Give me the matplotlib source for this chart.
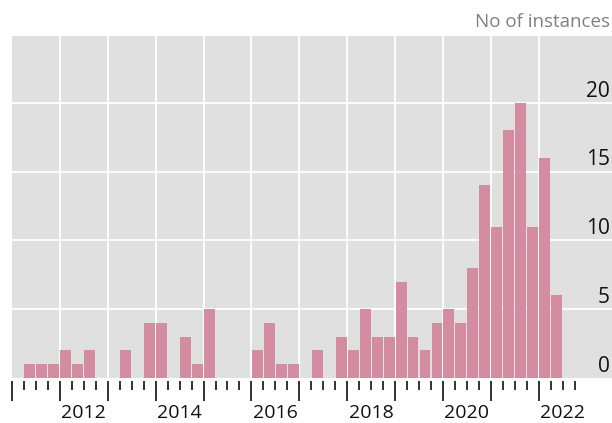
import matplotlib
matplotlib.use("Agg")
import matplotlib.pyplot as plt
import matplotlib.transforms as mtransforms
import numpy as np

plt.rcParams['font.family'] = ['Open Sans', 'DejaVu Sans']

# quarterly counts, 2011 Q1 .. 2022 Q4
years = list(range(2011, 2023))
counts = [
    0, 1, 1, 1,     # 2011
    2, 1, 2, 0,     # 2012
    0, 2, 0, 4,     # 2013
    4, 0, 3, 1,     # 2014
    5, 0, 0, 0,     # 2015
    2, 4, 1, 1,     # 2016
    0, 2, 0, 3,     # 2017
    2, 5, 3, 3,     # 2018
    7, 3, 2, 4,     # 2019
    5, 4, 8, 14,    # 2020
    11, 18, 20, 11, # 2021
    16, 6, 0, 0,    # 2022
]
year_labels = ['2012', '2014', '2016', '2018', '2020', '2022']
y_ticks = [0, 5, 10, 15, 20]

bar_color = '#d48ca1'
panel_color = '#e0e0e0'

quarter_start = np.array([y + q / 4 for y in years for q in range(4)])
centers = quarter_start + 0.125

fig = plt.figure(figsize=(6.12, 4.23), dpi=100)
ax = fig.add_axes([12 / 612, 45 / 423, 600 / 612, 342 / 423])
ax.set_facecolor(panel_color)

ax.bar(centers, counts, width=0.228, color=bar_color, zorder=3)

ax.set_xlim(2011, 2023.53)
ax.set_ylim(0, 24.87)

# white grid
for y in years[1:]:
    ax.axvline(y, color='white', lw=1.3, zorder=1)
for v in y_ticks[1:]:
    ax.axhline(v, color='white', lw=1.3, zorder=1)

for s in ax.spines.values():
    s.set_visible(False)
ax.spines['bottom'].set_position(('outward', 2))

ax.set_xticks(years)
ax.set_xticks(quarter_start, minor=True)
ax.tick_params(axis='x', which='major', length=14.5, width=1.2, color='#111111', labelbottom=False)
ax.tick_params(axis='x', which='minor', length=6.5, width=1.2, color='#111111')
ax.set_yticks([])

# year labels sit in the middle of the year
trans = mtransforms.blended_transform_factory(ax.transData, fig.transFigure)
for lab in year_labels:
    ax.text(int(lab) + 0.5, 1 - 418 / 423, lab, transform=trans, ha='center', va='baseline',
            fontsize=14, color='#111111')

for v in y_ticks:
    ax.annotate(str(v), xy=(1, v), xycoords=('axes fraction', 'data'),
                xytext=(-1.5, 4.5), textcoords='offset points',
                ha='right', va='baseline', fontsize=15, color='#111111', zorder=5)

fig.text(610 / 612, 1 - 22 / 423, 'No of instances', ha='right', va='center',
         fontsize=13.5, color='#808080')

fig.savefig('out.png', dpi=100)
